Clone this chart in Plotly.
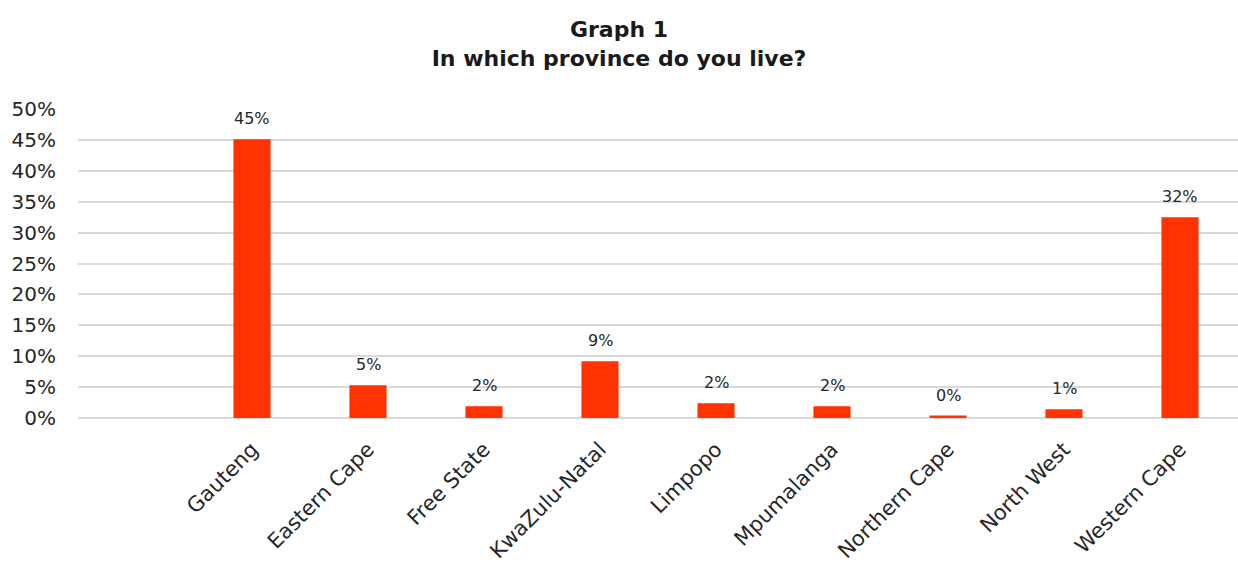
import plotly.graph_objects as go

# Survey share of respondents by province (first slot left blank)
provinces = [" ", "Gauteng", "Eastern Cape", "Free State", "KwaZulu-Natal",
             "Limpopo", "Mpumalanga", "Northern Cape", "North West", "Western Cape"]
shares = [None, 0.451, 0.053, 0.019, 0.092, 0.024, 0.019, 0.004, 0.014, 0.325]

y_ticks = [i * 0.05 for i in range(11)]
y_tick_labels = [f"{i * 5}%" for i in range(11)]

FONT = "'DejaVu Sans', sans-serif"
BAR_COLOR = "#ff3300"
TEXT_COLOR = "#262626"

fig = go.Figure()
fig.add_trace(go.Bar(
    x=provinces,
    y=shares,
    marker=dict(color=BAR_COLOR, line=dict(width=0)),
    hoverinfo="x+y",
))

# Value labels above each bar
for name, val in zip(provinces, shares):
    if val is None:
        continue
    fig.add_annotation(
        x=name, y=val, text=f"{val * 100:.0f}%",
        showarrow=False, yanchor="bottom", yshift=9,
        font=dict(family=FONT, size=16, color=TEXT_COLOR),
    )

fig.update_layout(
    width=1238, height=569,
    margin=dict(l=78, r=0, t=109, b=151),
    paper_bgcolor="white", plot_bgcolor="white",
    bargap=0.68,
    showlegend=False,
    title=dict(
        text="<b>Graph 1<br>In which province do you live?</b>",
        x=0.5, xanchor="center", y=1 - 37 / 569, yanchor="middle",
        font=dict(family=FONT, size=22, color="#1a1a1a"),
    ),
    xaxis=dict(
        type="category", tickangle=-45,
        tickfont=dict(family=FONT, size=21, color=TEXT_COLOR),
        showline=False, showgrid=False, ticks="",
        ticklabelstandoff=14,
    ),
    yaxis=dict(
        range=[0, 0.5], tickvals=y_ticks, ticktext=y_tick_labels,
        tickfont=dict(family=FONT, size=20, color=TEXT_COLOR),
        showgrid=True, gridcolor="#d9d9d9", gridwidth=1.5,
        zeroline=True, zerolinecolor="#d9d9d9", zerolinewidth=1.5,
        showline=False, ticks="", ticklen=0,
        ticklabelstandoff=21,
    ),
)

fig.write_html("out.html")
